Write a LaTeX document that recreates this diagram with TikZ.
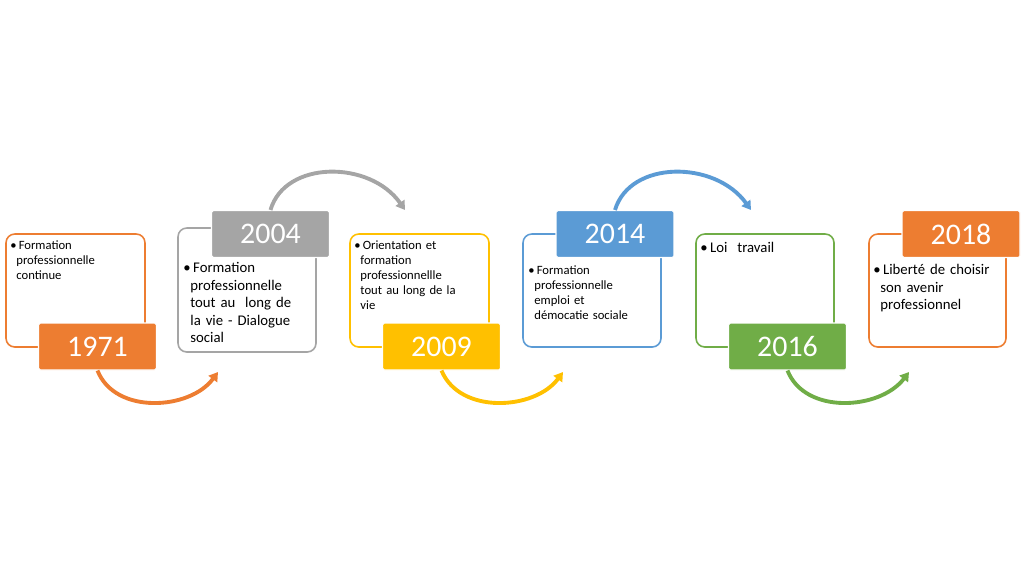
\documentclass[tikz,border=0pt]{standalone}
\usepackage{fontspec}
\setmainfont{Carlito}
\usetikzlibrary{arrows.meta}
\definecolor{corange}{HTML}{ED7D31}
\definecolor{cgrey}{HTML}{A5A5A5}
\definecolor{cyellow}{HTML}{FFC000}
\definecolor{cblue}{HTML}{5B9BD5}
\definecolor{cgreen}{HTML}{70AD47}
\def\fr{\textbullet\,}

\begin{document}
\begin{tikzpicture}[x=0.02cm,y=-0.02cm,
  textbox/.style={draw=#1,fill=white,rounded corners=5pt,line width=0.9pt},
  yearbox/.style={fill=#1,draw=white,line width=0.6pt,rounded corners=1pt,
    minimum width=2.36cm,minimum height=0.94cm,text=white,font=\fontsize{17}{17}\selectfont},
  desc/.style={anchor=north west,align=left,text width=#1,inner sep=0pt,
    font=\fontsize{7.2}{8.6}\selectfont},
  desc/.default=2.5cm,
  curve/.style={draw=#1,line width=2.2pt,-{Triangle[length=5pt,width=6pt]}}]

\useasboundingbox (0,0) rectangle (1024,583);

% boxes
\draw[textbox=corange] (6,234) rectangle (145,347);
\draw[textbox=cgrey] (178,228) rectangle (316,352);
\draw[textbox=cyellow] (350,234) rectangle (489,347);
\draw[textbox=cblue] (523,234) rectangle (661,347);
\draw[textbox=cgreen] (696,234) rectangle (834,347);
\draw[textbox=corange] (869,234) rectangle (1006,347);

% year labels
\node[yearbox=corange] (y1971) at (97.5,346.5) {1971};
\node[yearbox=cgrey] (y2004) at (270.5,234) {2004};
\node[yearbox=cyellow] (y2009) at (441.5,346.5) {2009};
\node[yearbox=cblue] (y2014) at (615,234) {2014};
\node[yearbox=cgreen] (y2016) at (787.5,346.5) {2016};
\node[yearbox=corange] (y2018) at (961,234) {2018};

% texts
\node[desc] (t1971) at (10,240) {\fr Formation\\\hspace*{1ex}professionnelle\\\hspace*{1ex}continue};
\node[desc,font=\fontsize{8.4}{10}\selectfont] (t2004) at (183,262) {\fr Formation\\\hspace*{1ex}professionnelle\\\hspace*{1ex}tout au\ \ long de\\\hspace*{1ex}la vie - Dialogue\\\hspace*{1ex}social};
\node[desc] (t2009) at (354,240) {\fr Orientation et\\\hspace*{1ex}formation\\\hspace*{1ex}professionnellle\\\hspace*{1ex}tout au long de la\\\hspace*{1ex}vie};
\node[desc] (t2014) at (528,265) {\fr Formation\\\hspace*{1ex}professionnelle\\\hspace*{1ex}emploi et\\\hspace*{1ex}d\'emocatie sociale};
\node[desc,font=\fontsize{8.4}{10}\selectfont] (t2016) at (700,242) {\fr Loi\ \ travail};
\node[desc,font=\fontsize{8.4}{10}\selectfont] (t2018) at (873,264) {\fr Libert\'e de choisir\\\hspace*{1ex}son avenir\\\hspace*{1ex}professionnel};

% connectors
\coordinate (e1) at (218,372);
\coordinate (e2) at (405,210);
\coordinate (e3) at (563,372);
\coordinate (e4) at (751,210);
\coordinate (e5) at (909,372);
\draw[curve=corange] (y1971.south) .. controls (115,415) and (190,410) .. (e1);
\draw[curve=cgrey] (y2004.north) .. controls (285,160) and (370,160) .. (e2);
\draw[curve=cyellow] (y2009.south) .. controls (460,415) and (535,410) .. (e3);
\draw[curve=cblue] (y2014.north) .. controls (630,160) and (715,160) .. (e4);
\draw[curve=cgreen] (y2016.south) .. controls (805,415) and (880,410) .. (e5);

\end{tikzpicture}
\end{document}
